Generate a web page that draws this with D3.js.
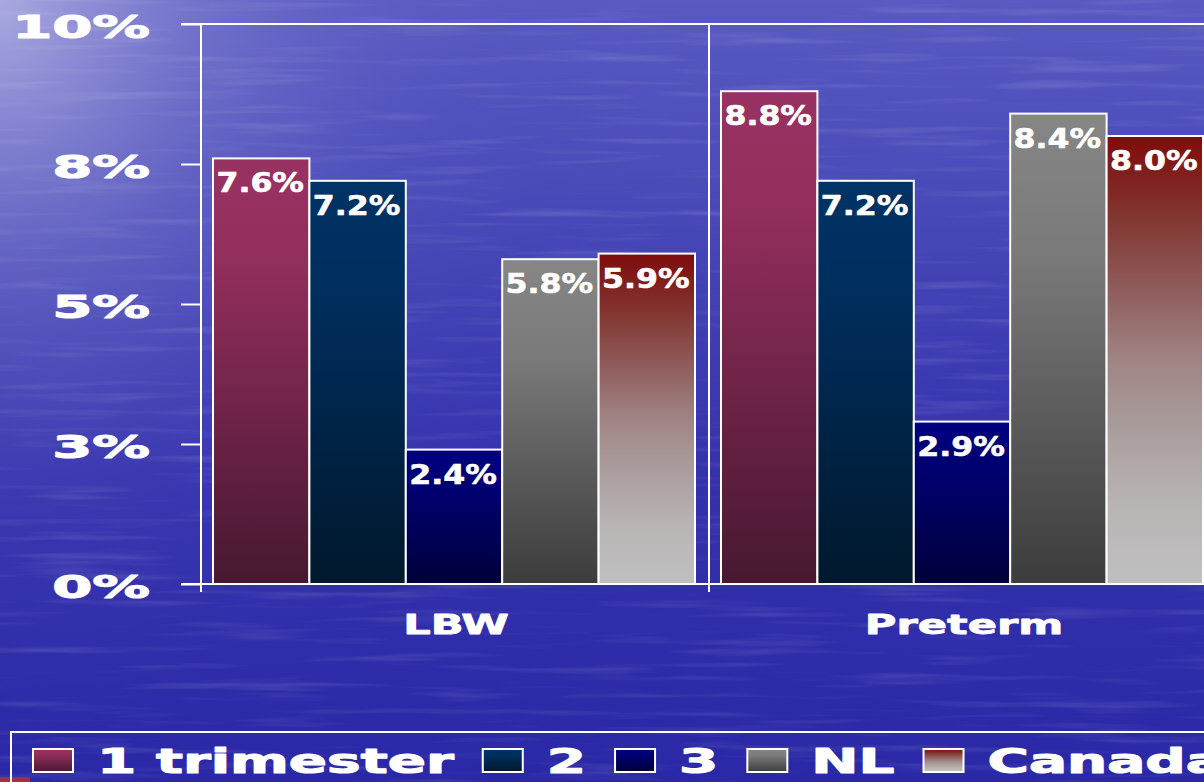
<!DOCTYPE html>
<html><head><meta charset="utf-8">
<script src="https://cdn.jsdelivr.net/npm/d3@7"></script>
<style>html,body{margin:0;padding:0;overflow:hidden;background:#2e2ca8}svg{display:block}</style>
</head><body>
<script>
const categories = ["LBW", "Preterm"];
const seriesNames = ["1 trimester", "2", "3", "NL", "Canada"];
const lbwValues = [7.6, 7.2, 2.4, 5.8, 5.9];
const pretermValues = [8.8, 7.2, 2.9, 8.4, 8.0];
const yTickValues = [0, 2.5, 5, 7.5, 10];
const yTickLabels = ["0%", "3%", "5%", "8%", "10%"];

const W = 1204, H = 782;
const svg = d3.select("body").append("svg").attr("width", W).attr("height", H);
const defs = svg.append("defs");
const FONT = "'DejaVu Sans', Verdana, sans-serif";

// background
const bgLin = defs.append("linearGradient").attr("id", "bgLin").attr("x1", 0).attr("y1", 0).attr("x2", 0).attr("y2", 1);
[[0, "#5a5ac2"], [0.3, "#4646b7"], [0.6, "#3532ad"], [1, "#2a28a6"]].forEach(s => bgLin.append("stop").attr("offset", s[0]).attr("stop-color", s[1]));
const bgRad = defs.append("radialGradient").attr("id", "bgRad").attr("gradientUnits", "userSpaceOnUse")
  .attr("cx", 0).attr("cy", 0).attr("r", 720).attr("gradientTransform", "scale(0.9,1.1)");
[[0, "#c4c4ea", 0.75], [0.35, "#9090d6", 0.35], [0.7, "#6060c4", 0.1], [1, "#4040b8", 0]].forEach(s => bgRad.append("stop").attr("offset", s[0]).attr("stop-color", s[1]).attr("stop-opacity", s[2]));
const filt = defs.append("filter").attr("id", "water").attr("x", 0).attr("y", 0).attr("width", 1).attr("height", 1);
filt.append("feTurbulence").attr("type", "fractalNoise").attr("baseFrequency", "0.006 0.11").attr("numOctaves", 3).attr("seed", 7).attr("result", "n");
filt.append("feColorMatrix").attr("in", "n").attr("type", "matrix")
  .attr("values", "0 0 0 0 1  0 0 0 0 1  0 0 0 0 1  0 0 0 1.5 -0.8");
svg.append("rect").attr("width", W).attr("height", H).attr("fill", "url(#bgLin)");
svg.append("rect").attr("width", W).attr("height", H).attr("fill", "url(#bgRad)");
svg.append("rect").attr("width", W).attr("height", H).attr("filter", "url(#water)").attr("opacity", 0.2);
svg.append("rect").attr("x", 0).attr("y", 777).attr("width", 30).attr("height", 6).attr("fill", "#a03048");

// series gradients
const gradStops = [
  [[0, "#983262"], [0.25, "#922e5c"], [1, "#471830"]],
  [[0, "#003366"], [0.3, "#002d5c"], [1, "#00182c"]],
  [[0, "#000082"], [0.3, "#000070"], [1, "#00003a"]],
  [[0, "#868686"], [0.3, "#7a7a7a"], [1, "#3c3c3c"]],
  [[0, "#7e0c0c"], [0.18, "#823630"], [0.34, "#8f5c5c"], [0.5, "#a08484"], [0.65, "#aa9c9c"], [0.82, "#b8b4b4"], [1, "#c0c0c0"]]
];
gradStops.forEach((st, i) => {
  const g = defs.append("linearGradient").attr("id", "g" + i).attr("x1", 0).attr("y1", 0).attr("x2", 0).attr("y2", 1);
  st.forEach(s => g.append("stop").attr("offset", s[0]).attr("stop-color", s[1]));
});

// scales
const y = d3.scaleLinear().domain([0, 10]).range([584, 24]);
const x0 = d3.scaleBand().domain(categories).range([201, 1217]);
const x1 = d3.scaleBand().domain(seriesNames).range([12, 494]);
const data = categories.map((c, ci) => ({cat: c, vals: (ci === 0 ? lbwValues : pretermValues)}));

const white = "#ffffff";
function boldText(sel, size, sw) {
  return sel.attr("fill", white).attr("stroke", white).attr("stroke-width", sw).attr("stroke-linejoin", "round")
    .style("font-family", FONT).style("font-weight", "bold").style("font-size", size + "px");
}

svg.append("line").attr("x1", 181).attr("x2", W).attr("y1", y(10)).attr("y2", y(10)).attr("stroke", white).attr("stroke-width", 2);

// y axis
const yAxis = d3.axisLeft(y).tickValues(yTickValues).tickSize(20).tickFormat((d, i) => yTickLabels[i]);
const yg = svg.append("g").attr("transform", "translate(201,0)").call(yAxis);
yg.select(".domain").remove();
yg.selectAll(".tick line").attr("stroke", white).attr("stroke-width", 2);
yg.selectAll(".tick text").remove();
boldText(yg.selectAll(".tick").append("text")
  .attr("transform", "translate(-51,13) scale(1.8,1)")
  .attr("text-anchor", "end"), 32, 1.1)
  .text((d, i) => yTickLabels[i]);
svg.append("line").attr("x1", 201).attr("x2", 201).attr("y1", y(10)).attr("y2", 592).attr("stroke", white).attr("stroke-width", 2);
svg.append("line").attr("x1", 181).attr("x2", W).attr("y1", y(0)).attr("y2", y(0)).attr("stroke", white).attr("stroke-width", 2);

categories.slice(1).forEach(c => {
  svg.append("line").attr("x1", x0(c)).attr("x2", x0(c)).attr("y1", y(10)).attr("y2", 592).attr("stroke", white).attr("stroke-width", 2);
});

// bars
const groups = svg.selectAll("g.cat").data(data).join("g").attr("class", "cat")
  .attr("transform", d => `translate(${x0(d.cat)},0)`);
groups.selectAll("rect").data(d => d.vals.map((v, i) => ({v, s: seriesNames[i], i})))
  .join("rect")
  .attr("x", d => x1(d.s)).attr("width", x1.bandwidth())
  .attr("y", d => y(d.v)).attr("height", d => y(0) - y(d.v))
  .attr("fill", d => `url(#g${d.i})`).attr("stroke", white).attr("stroke-width", 2);
boldText(groups.selectAll("text.val").data(d => d.vals.map((v, i) => ({v, s: seriesNames[i], i})))
  .join("text").attr("class", "val")
  .attr("transform", d => `translate(${x1(d.s) + x1.bandwidth() / 2 - 1},${y(d.v) + 34}) scale(1.17,1)`)
  .attr("text-anchor", "middle"), 27, 0.6)
  .text(d => d.v.toFixed(1) + "%");

// category labels
categories.forEach(c => {
  boldText(svg.append("text").attr("transform", `translate(${x0(c) + 255},634) scale(1.6,1)`)
    .attr("text-anchor", "middle"), 27, 0.8)
    .text(c);
  svg.append("line").attr("x1", x0(c)).attr("x2", x0(c)).attr("y1", 584).attr("y2", 592).attr("stroke", white).attr("stroke-width", 2);
});

// legend
svg.append("rect").attr("x", 11).attr("y", 732).attr("width", 1300).attr("height", 100)
  .attr("fill", "none").attr("stroke", white).attr("stroke-width", 2);
let lx = 33;
const LSX = 1.66;
seriesNames.forEach((s, i) => {
  svg.append("rect").attr("x", lx).attr("y", 749).attr("width", 40).attr("height", 23)
    .attr("fill", `url(#g${i})`).attr("stroke", white).attr("stroke-width", 2);
  const t = boldText(svg.append("text").attr("transform", `translate(${lx + 64},773) scale(${LSX},1)`), 34, 1.1)
    .text(s);
  const w = t.node().getComputedTextLength() * LSX;
  lx = lx + 64 + w + 29;
});
</script>
</body></html>
